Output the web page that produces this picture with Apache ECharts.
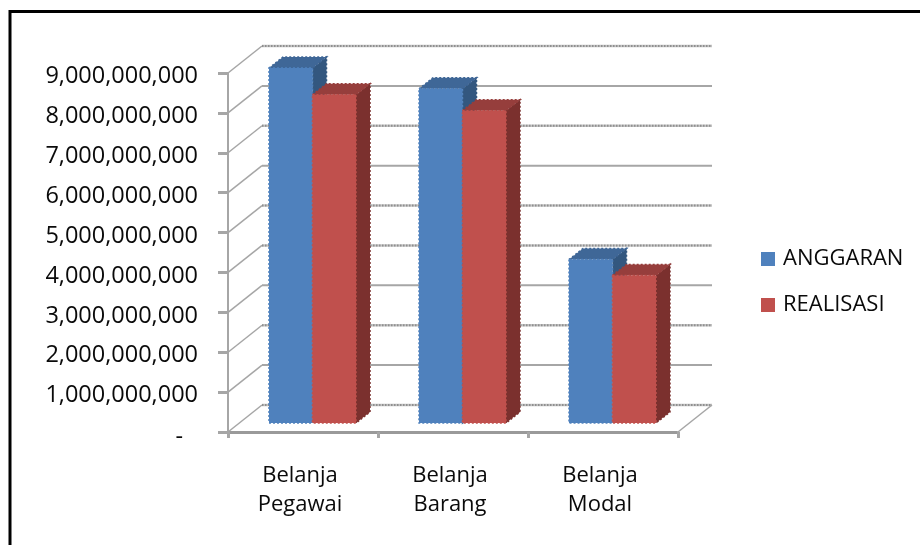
<!DOCTYPE html>
<html>
<head>
<meta charset="utf-8">
<style>html,body{margin:0;padding:0;background:#fff}#chart{width:920px;height:545px}</style>
<script src="https://cdn.jsdelivr.net/npm/echarts@6/dist/echarts.min.js"></script>
</head>
<body>
<div id="chart"></div>
<script>
const categories = ['Belanja\nPegawai', 'Belanja\nBarang', 'Belanja\nModal'];
const anggaran = [8900000000, 8380000000, 4100000000];
const realisasi = [8230000000, 7830000000, 3700000000];
const yTicks = [0, 1e9, 2e9, 3e9, 4e9, 5e9, 6e9, 7e9, 8e9, 9e9];
// Grid lines that the wall rendering shows with a stippled texture
const stippledTicks = [0, 2e9, 4e9, 5e9, 7e9, 9e9];

// Oblique projection of the 3D chart box, in pixels
const WALL_DX = 34, WALL_DY = -27;
const PLANE_DX = 10.5, PLANE_DY = -9;
const BAR_DX = 14, BAR_DY = -11;
const BAR_W = 43.5;
const FONT = '"Open Sans", sans-serif';
const AXIS_GRAY = '#a6a6a6';
const TEXT = '#0a0a0a';

// Face of a bar with a stepped, sawtooth-like rim in the face colour
function face(points, fill) {
  return {
    type: 'polygon',
    shape: { points },
    style: { fill, stroke: fill, lineWidth: 1.5, lineDash: [2, 2] }
  };
}

// One bar of a two-bar cluster: side, top and front faces
function barRenderer(slot, front, top, side) {
  return function (params, api) {
    const i = api.value(0);
    const p = api.coord([i, api.value(1)]);
    const b = api.coord([i, 0]);
    const x0 = p[0] + PLANE_DX + (slot - 1) * BAR_W - 1;
    const x1 = x0 + BAR_W;
    const yT = p[1] + PLANE_DY;
    const yB = b[1] + PLANE_DY;
    return {
      type: 'group',
      children: [
        face([[x1, yT], [x1 + BAR_DX, yT + BAR_DY], [x1 + BAR_DX, yB + BAR_DY], [x1, yB]], side),
        face([[x0, yT], [x0 + BAR_DX, yT + BAR_DY], [x1 + BAR_DX, yT + BAR_DY], [x1, yT]], top),
        face([[x0, yT], [x1, yT], [x1, yB], [x0, yB]], front)
      ]
    };
  };
}

// Grid line running from the left axis over the side wall and along the back wall
function gridRenderer(params, api) {
  const v = api.value(0);
  const cs = params.coordSys;
  const y = api.coord([0, v])[1];
  const x = cs.x;
  const corner = [x + WALL_DX, y + WALL_DY];
  const end = [x + cs.width + WALL_DX, y + WALL_DY];
  const children = [
    {
      type: 'polyline',
      shape: { points: [[x, y], corner] },
      style: { fill: 'none', stroke: AXIS_GRAY, lineWidth: 1.5 }
    }
  ];
  if (stippledTicks.includes(v)) {
    children.push(
      { type: 'polyline', shape: { points: [corner, end] }, style: { fill: 'none', stroke: '#c4c4c4', lineWidth: 2.5 } },
      { type: 'polyline', shape: { points: [corner, end] }, style: { fill: 'none', stroke: '#8f8f8f', lineWidth: 2, lineDash: [1.5, 1.5] } }
    );
  } else {
    children.push({ type: 'polyline', shape: { points: [corner, end] }, style: { fill: 'none', stroke: AXIS_GRAY, lineWidth: 2 } });
  }
  if (v === 0) {
    children.push({
      type: 'polyline',
      shape: { points: [end, [x + cs.width, y]] },
      style: { fill: 'none', stroke: AXIS_GRAY, lineWidth: 1.5 }
    });
  }
  return { type: 'group', children };
}

const chart = echarts.init(document.getElementById('chart'));
chart.setOption({
  animation: false,
  backgroundColor: '#fff',
  grid: { left: 228, right: 242, top: 73, bottom: 113 },
  legend: {
    orient: 'vertical',
    left: 756,
    top: 243,
    itemWidth: 14,
    itemHeight: 14,
    itemGap: 24,
    icon: 'rect',
    data: ['ANGGARAN', 'REALISASI'],
    textStyle: { fontFamily: FONT, fontSize: 22, color: TEXT, padding: [0, 0, 0, 3] }
  },
  xAxis: {
    type: 'category',
    data: categories,
    axisLine: { lineStyle: { color: '#9a9a9a', width: 3, type: [2, 1] } },
    axisTick: { show: true, length: 6, lineStyle: { color: AXIS_GRAY, width: 3 } },
    axisLabel: {
      margin: 29, fontFamily: FONT, fontSize: 22, lineHeight: 29, color: TEXT,
      padding: [0, 6, 0, 0]
    },
    splitLine: { show: false }
  },
  yAxis: {
    type: 'value',
    min: 0,
    max: 9000000000,
    interval: 1000000000,
    axisLine: { show: true, lineStyle: { color: AXIS_GRAY, width: 2 } },
    axisTick: { show: true, length: 10, lineStyle: { color: AXIS_GRAY, width: 3 } },
    splitLine: { show: false },
    axisLabel: {
      margin: 30, fontFamily: FONT, fontSize: 23.5, color: TEXT, padding: [7, 0, 0, 0],
      formatter: v => (v === 0 ? '{dash|-}' : v.toLocaleString('en-US')),
      rich: { dash: { fontFamily: FONT, fontSize: 23.5, color: TEXT, padding: [3, 15, 0, 0] } }
    }
  },
  series: [
    {
      type: 'custom',
      name: 'grid',
      silent: true,
      z: 1,
      renderItem: gridRenderer,
      data: yTicks.map(v => [v])
    },
    {
      type: 'custom',
      name: 'ANGGARAN',
      z: 2,
      itemStyle: { color: '#4F81BD' },
      renderItem: barRenderer(0, '#4F81BD', '#3F6797', '#33577F'),
      encode: { x: 0, y: 1 },
      data: anggaran.map((v, i) => [i, v])
    },
    {
      type: 'custom',
      name: 'REALISASI',
      z: 3,
      itemStyle: { color: '#C0504D' },
      renderItem: barRenderer(1, '#C0504D', '#963E3C', '#7B302E'),
      encode: { x: 0, y: 1 },
      data: realisasi.map((v, i) => [i, v])
    }
  ],
  graphic: [
    {
      type: 'rect',
      shape: { x: 10, y: 11.5, width: 1000, height: 1000 },
      style: { fill: 'none', stroke: '#000', lineWidth: 3 },
      silent: true
    }
  ]
});
</script>
</body>
</html>
